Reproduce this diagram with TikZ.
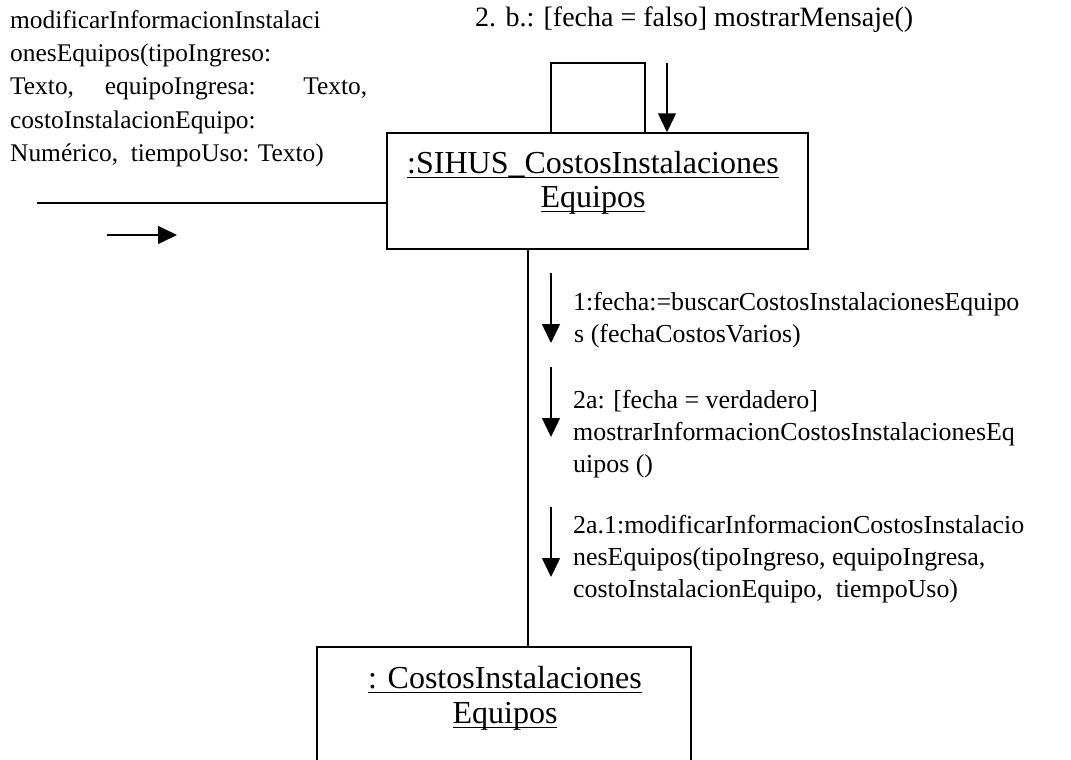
\documentclass[tikz,border=0pt]{standalone}
\usepackage{fontspec}
\setmainfont{Liberation Serif}
\usetikzlibrary{arrows.meta,calc}
\newcommand\myul[1]{\leavevmode\setbox0\hbox{#1}\rlap{\rule[-5pt]{\wd0}{1.4pt}}\box0}
\tikzset{
  lw/.style={line width=1.5pt},
  msgarrow/.style={lw,-{Triangle[length=19pt,width=18pt]}},
  body/.style={inner sep=0pt,anchor=base west,font=\fontsize{25.9}{30}\selectfont},
  leftbody/.style={body,font=\fontsize{25.4}{30}\selectfont},
  toplabel/.style={body,font=\fontsize{28}{32}\selectfont},
  boxtxt/.style={inner sep=0pt,anchor=base,font=\fontsize{32}{36}\selectfont},
  objbox/.style={lw,draw,rectangle,inner sep=0pt}
}
\begin{document}
\begin{tikzpicture}[x=1pt,y=-1pt]
\useasboundingbox (0,0) rectangle (1071,760);
% objects
\node[objbox,minimum width=421pt,minimum height=116pt] (sihus) at (597.5,191) {};
\node[inner sep=0pt,minimum width=374pt,minimum height=114pt] (costos) at (504,704) {};
\draw[lw] (costos.south west) |- (costos.north east) -- (costos.south east);
\node[boxtxt] (sihusA) at (593,173) {\myul{:SIHUS\_CostosInstalaciones}};
\node[boxtxt] (sihusB) at (593,207) {\myul{Equipos}};
\node[boxtxt] (costosA) at (505,688) {\myul{: CostosInstalaciones}};
\node[boxtxt] (costosB) at (505,723) {\myul{Equipos}};
% actor link and incoming message
\coordinate (actor) at (37,203);
\draw[lw] (actor) -- (actor -| sihus.west);
\coordinate (m0s) at (107,235);
\coordinate (m0e) at (177,235);
\draw[msgarrow] (m0s) -- (m0e);
% self loop
\coordinate (loopA) at (551,133);
\coordinate (loopB) at (645,133);
\draw[lw] (loopA) -- ++(0,-70) -| (loopB);
\coordinate (m2b) at (667,63);
\draw[msgarrow] (m2b) -- (m2b |- sihus.north);
% lifeline
\coordinate (lifeX) at (528,0);
\draw[lw] (sihus.south -| lifeX) -- (costos.north -| lifeX);
% message arrows
\coordinate (m1s) at (551,273); \coordinate (m1e) at (551,343);
\coordinate (m2s) at (551,367); \coordinate (m2e) at (551,437);
\coordinate (m3s) at (551,507); \coordinate (m3e) at (551,577);
\draw[msgarrow] (m1s) -- (m1e);
\draw[msgarrow] (m2s) -- (m2e);
\draw[msgarrow] (m3s) -- (m3e);
% left label
\node[leftbody] (l1) at (10,29) {modificarInformacionInstalaci};
\node[leftbody] (l2) at (10,62) {onesEquipos(tipoIngreso:};
\node[leftbody] (l3) at (10,95) {\makebox[357pt][s]{Texto, equipoIngresa: Texto,}};
\node[leftbody] (l4) at (10,128) {costoInstalacionEquipo:};
\node[leftbody] (l5) at (10,161) {Numérico,\ \ tiempoUso: Texto)};
% top label
\node[toplabel] (t2b) at (475,27) {2. b.: [fecha = falso] mostrarMensaje()};
% right labels
\node[body] (r11) at (573,310) {1:fecha:=buscarCostosInstalacionesEquipo};
\node[body] (r12) at (574,342) {s (fechaCostosVarios)};
\node[body] (r21) at (573,408) {2a: [fecha = verdadero]};
\node[body] (r22) at (573,440) {mostrarInformacionCostosInstalacionesEq};
\node[body] (r23) at (573,472) {uipos ()};
\node[body] (r31) at (573,533) {2a.1:modificarInformacionCostosInstalacio};
\node[body] (r32) at (573,565) {nesEquipos(tipoIngreso, equipoIngresa,};
\node[body] (r33) at (573,597) {costoInstalacionEquipo,\ \ tiempoUso)};
\end{tikzpicture}
\end{document}
